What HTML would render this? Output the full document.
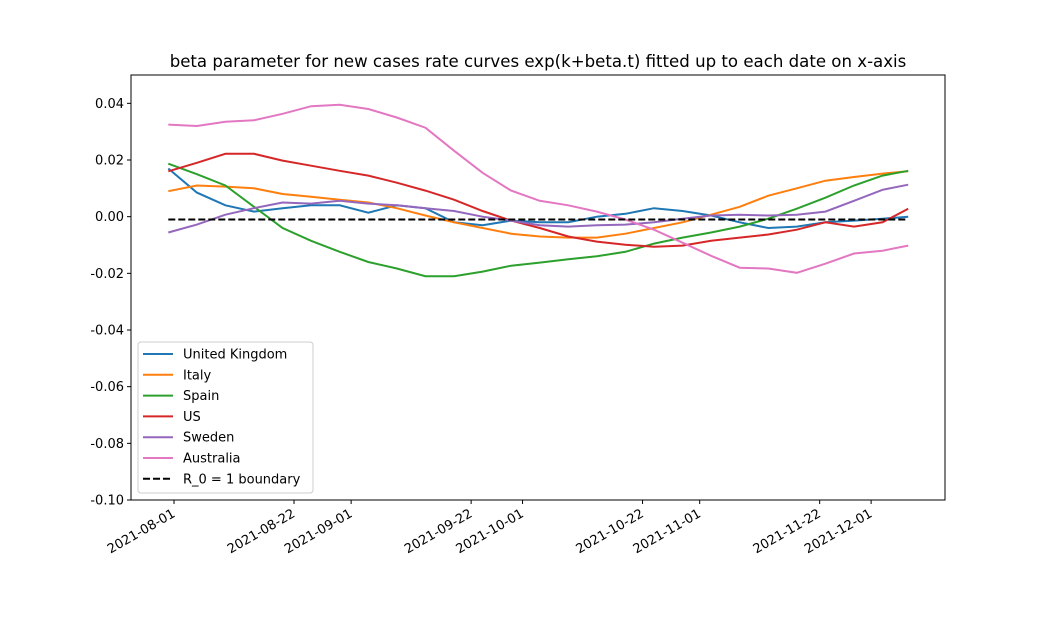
<!DOCTYPE html>
<html><head><meta charset="utf-8">
<style>body{margin:0;background:#fff}svg{font-family:"DejaVu Sans","Liberation Sans",sans-serif}</style>
</head><body>
<svg id="c" width="1050" height="625"></svg>
<script>
const days=[-1,4,9,14,19,24,29,34,39,44,49,54,59,64,69,74,79,84,89,94,99,104,109,114,119,124,128.5];
const uk=[0.017,0.0085,0.004,0.0018,0.003,0.004,0.004,0.0014,0.004,0.003,-0.002,-0.003,-0.0014,-0.002,-0.002,0,0.001,0.003,0.002,0.0004,-0.002,-0.004,-0.0035,-0.002,-0.0014,-0.0007,0];
const italy=[0.009,0.011,0.0106,0.01,0.008,0.007,0.006,0.005,0.003,0.0004,-0.002,-0.004,-0.006,-0.007,-0.0074,-0.0074,-0.006,-0.004,-0.002,0.0007,0.0035,0.0074,0.01,0.0127,0.014,0.0152,0.016];
const spain=[0.0187,0.015,0.011,0.0035,-0.004,-0.0085,-0.0124,-0.016,-0.0183,-0.021,-0.021,-0.0194,-0.0173,-0.0162,-0.015,-0.014,-0.0124,-0.0095,-0.0074,-0.0056,-0.0035,-0.0007,0.0028,0.0067,0.011,0.0145,0.0162];
const us=[0.016,0.019,0.0222,0.0222,0.0198,0.018,0.0162,0.0145,0.012,0.0092,0.006,0.002,-0.0014,-0.004,-0.007,-0.0088,-0.0099,-0.0106,-0.0102,-0.0085,-0.0074,-0.0063,-0.0046,-0.002,-0.0035,-0.002,0.0028];
const sweden=[-0.0056,-0.0028,0.0007,0.003,0.005,0.0046,0.0056,0.0046,0.004,0.003,0.002,0,-0.0014,-0.003,-0.0035,-0.003,-0.0028,-0.002,-0.0007,0.0004,0.0007,0.0004,0.0007,0.0018,0.0056,0.0095,0.0113];
const australia=[0.0325,0.032,0.0335,0.034,0.0363,0.039,0.0395,0.038,0.035,0.0314,0.0233,0.0155,0.0092,0.0056,0.004,0.0018,-0.001,-0.0046,-0.0092,-0.0138,-0.018,-0.0183,-0.0198,-0.0166,-0.013,-0.012,-0.0102];
const boundary=-0.001;
const yTicks=[0.04,0.02,0.00,-0.02,-0.04,-0.06,-0.08,-0.10];
const xTickDays=[0,21,31,52,61,82,92,113,122];
const xTickLabels=["2021-08-01","2021-08-22","2021-09-01","2021-09-22","2021-10-01","2021-10-22","2021-11-01","2021-11-22","2021-12-01"];
const names=["United Kingdom","Italy","Spain","US","Sweden","Australia"];
const colors=["#1f77b4","#ff7f0e","#2ca02c","#d62728","#9467bd","#e377c2"];
const series=[uk,italy,spain,us,sweden,australia];

const L=131,R=945,T=75,B=500;
const X=d=>174+d*5.714;
const Y=v=>T+(0.05-v)/0.15*(B-T);
const svg=document.getElementById('c');
const NS="http://www.w3.org/2000/svg";
function mk(tag,at,parent){const e=document.createElementNS(NS,tag);for(const k in at)e.setAttribute(k,at[k]);(parent||svg).appendChild(e);return e;}

let t=mk('text',{x:538,y:67,'text-anchor':'middle','font-size':16.6});
t.textContent="beta parameter for new cases rate curves exp(k+beta.t) fitted up to each date on x-axis";



series.forEach((s,i)=>{
  const p=mk('polyline',{points:s.map((v,j)=>X(days[j]).toFixed(1)+','+Y(v).toFixed(1)).join(' '),fill:'none',stroke:colors[i],'stroke-width':2});
  
  
});
let bl=mk('line',{x1:X(-1),x2:X(128.5),y1:Y(boundary),y2:Y(boundary),stroke:'#000','stroke-width':2,'stroke-dasharray':'7,3'});



let fr=mk('rect',{x:L,y:T,width:R-L,height:B-T,fill:'none',stroke:'#000','stroke-width':1});



yTicks.forEach(v=>{
  const y=Y(v);
  mk('line',{x1:L-4,x2:L,y1:y,y2:y,stroke:'#000'});
  const tx=mk('text',{x:L-7,y:y+4.5,'text-anchor':'end','font-size':13});
  tx.textContent=v.toFixed(2);
  
  
});
xTickDays.forEach((d,i)=>{
  const x=X(d);
  mk('line',{x1:x,x2:x,y1:B,y2:B+4,stroke:'#000'});
  const tx=mk('text',{x:x+2,y:B+16,'text-anchor':'end','font-size':13,transform:`rotate(-30 ${x+2} ${B+16})`});
  tx.textContent=xTickLabels[i];
  
  
});

const lg=mk('g',{});


mk('rect',{x:138,y:342,width:175,height:151,rx:3,fill:'#fff','fill-opacity':0.8,stroke:'#ccc'},lg);
const lnames=names.concat(["R_0 = 1 boundary"]);
lnames.forEach((n,i)=>{
  const y=354+i*20.8;
  const ln=mk('line',{x1:143,x2:173,y1:y,y2:y,stroke:i<6?colors[i]:'#000','stroke-width':2},lg);
  if(i==6)ln.setAttribute('stroke-dasharray','7,3');
  const tx=mk('text',{x:183,y:y+4.5,'font-size':13},lg);
  tx.textContent=n;
  
  
});
</script>
</body></html>
